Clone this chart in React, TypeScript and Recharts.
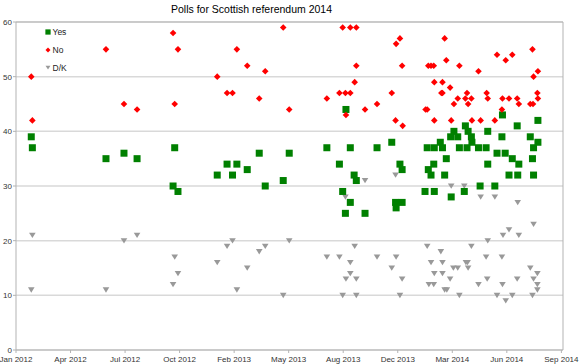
import React from "react";
import {
  ScatterChart,
  Scatter,
  XAxis,
  YAxis,
  CartesianGrid,
  ReferenceLine,
} from "recharts";

// x values are days counted from 1 Jan 2012, the axis runs to 30 Sep 2014
const tickDays = [0, 100, 200, 300, 400, 500, 600, 700, 800, 900, 1000];
const tickLabels = [
  "Jan 2012", "Apr 2012", "Jul 2012", "Oct 2012", "Feb 2013", "May 2013",
  "Aug 2013", "Dec 2013", "Mar 2014", "Jun 2014", "Sep 2014",
];
const yTicks = [0, 10, 20, 30, 40, 50, 60];

const yesDays = [
  28, 30, 165, 198, 222, 288, 291, 297, 369, 387, 397, 405, 424, 446, 457, 490, 501,
  570, 593, 599, 604, 605, 613, 613, 620, 624, 640, 662, 689, 696, 697, 704, 708, 708,
  750, 754, 756, 761, 766, 767, 767, 778, 782, 786, 789, 797, 798, 803, 810, 813, 822,
  824, 827, 829, 835, 836, 848, 851, 862, 865, 865, 878, 882, 891, 892, 897, 904, 910,
  919, 920, 922, 943, 947, 949, 949, 957, 957,
];
const yesValues = [
  39, 37, 35, 36, 35, 30, 37, 29, 32, 34, 32, 34, 33, 36, 30, 31, 36,
  37, 34, 29, 25, 44, 37, 27, 32, 31, 25, 37, 38, 27, 26, 34, 33, 27,
  29, 37, 33, 32, 34, 37, 29, 38, 37, 32, 35, 39, 28, 40, 39, 37, 29,
  41, 37, 40, 39, 38, 37, 30, 37, 40, 34, 30, 36, 39, 43, 36, 32, 35,
  41, 32, 34, 39, 35, 37, 32, 42, 38,
];

const noDays = [
  28, 30, 165, 198, 222, 288, 291, 297, 369, 387, 397, 405, 424, 446, 457, 490, 501,
  570, 593, 599, 604, 605, 613, 613, 621, 624, 624, 640, 662, 689, 696, 697, 704, 708,
  709, 751, 754, 756, 761, 766, 767, 767, 780, 782, 782, 786, 789, 796, 798, 803, 810,
  813, 824, 827, 829, 835, 836, 848, 852, 863, 865, 878, 882, 891, 892, 898, 904, 910,
  919, 922, 943, 948, 947, 949, 957, 956, 957,
];
const noValues = [
  50, 42, 55, 45, 44, 58, 45, 55, 50, 47, 47, 55, 52, 46, 51, 59, 44,
  46, 47, 59, 47, 43, 47, 59, 49, 59, 52, 44, 45, 47, 42, 56, 57, 52,
  41, 44, 44, 52, 52, 52, 49, 42, 47, 49, 47, 57, 53, 48, 42, 45, 46,
  52, 46, 47, 45, 46, 42, 51, 42, 47, 46, 42, 54, 44, 46, 53, 46, 54,
  46, 45, 45, 45, 55, 50, 51, 47, 46,
];

const dkDays = [
  28, 30, 165, 198, 222, 288, 291, 297, 369, 387, 397, 405, 424, 446, 457, 490, 501,
  570, 593, 599, 604, 605, 613, 613, 621, 624, 624, 640, 662, 689, 696, 697, 704, 708,
  754, 757, 761, 766, 767, 779, 782, 782, 786, 790, 796, 798, 802, 810, 813, 822, 825,
  828, 829, 835, 848, 852, 862, 864, 865, 878, 882, 891, 892, 893, 898, 904, 910, 919,
  920, 922, 943, 947, 949, 949, 956, 956, 956,
];
const dkValues = [
  11, 21, 11, 20, 21, 12, 17, 14, 16, 19, 20, 11, 15, 18, 19, 10, 20,
  17, 17, 10, 28, 13, 16, 14, 19, 13, 10, 31, 17, 15, 32, 17, 10, 13,
  19, 12, 16, 12, 14, 18, 16, 14, 11, 11, 13, 30, 15, 15, 10, 30, 16,
  16, 15, 19, 12, 28, 17, 13, 20, 28, 10, 17, 12, 21, 9, 22, 10, 13,
  27, 21, 15, 10, 23, 13, 14, 12, 11,
];

const toPoints = (days: number[], values: number[]) =>
  days.map((day, i) => ({ day, value: values[i] }));

const yesData = toPoints(yesDays, yesValues);
const noData = toPoints(noDays, noValues);
const dkData = toPoints(dkDays, dkValues);

const GREEN = "#008000";
const RED = "#ff0000";
const GREY = "#999999";
const FONT = "'Liberation Sans', Arial, sans-serif";

const Square = ({ cx, cy, s = 1 }: any) => (
  <rect x={cx - 3.5 * s} y={cy - 3.5 * s} width={7 * s} height={7 * s} fill={GREEN} />
);

const Diamond = ({ cx, cy, s = 1 }: any) => {
  const r = 3.3 * s;
  return (
    <polygon
      points={`${cx},${cy - r} ${cx + r},${cy} ${cx},${cy + r} ${cx - r},${cy}`}
      fill={RED}
    />
  );
};

const TriangleDown = ({ cx, cy, s = 1 }: any) => (
  <polygon
    points={`${cx - 3.3 * s},${cy - 2.5 * s} ${cx + 3.3 * s},${cy - 2.5 * s} ${cx},${cy + 2.8 * s}`}
    fill={GREY}
  />
);

const legendItems = [
  { label: "Yes", Shape: Square, y: 32 },
  { label: "No", Shape: Diamond, y: 50 },
  { label: "D/K", Shape: TriangleDown, y: 67.5 },
];

// legend drawn as an overlay so it takes no room from the plot
const LegendBox = () => (
  <svg width={100} height={80} style={{ position: "absolute", left: 0, top: 0 }}>
    {legendItems.map(({ label, Shape, y }) => (
      <g key={label}>
        <Shape cx={48} cy={y} s={0.75} />
        <text x={52.5} y={y + 3} fontSize={8.5} fill="#222" fontFamily={FONT}>
          {label}
        </text>
      </g>
    ))}
  </svg>
);

export default function App() {
  return (
    <div style={{ position: "absolute", left: 0, top: 0, width: 582, height: 364, background: "#fff" }}>
      <ScatterChart width={582} height={364} margin={{ top: 22, right: 19, bottom: 0, left: 0 }}>
        <CartesianGrid horizontal vertical={false} stroke="#d9d9d9" strokeWidth={1.5} />
        <XAxis
          type="number"
          dataKey="day"
          domain={[0, 1003]}
          ticks={tickDays}
          interval={0}
          height={14}
          tickSize={3}
          tickMargin={3}
          stroke="#b3b3b3"
          tick={{ fontSize: 8, fill: "#333", fontFamily: FONT }}
          tickFormatter={(d: number) => tickLabels[tickDays.indexOf(d)]}
        />
        <YAxis
          type="number"
          dataKey="value"
          domain={[0, 60]}
          ticks={yTicks}
          interval={0}
          width={16}
          tickSize={3}
          tickMargin={1}
          stroke="#b3b3b3"
          tick={{ fontSize: 8, fill: "#333", fontFamily: FONT }}
        />
        <ReferenceLine x={1003} stroke="#b3b3b3" />
        <ReferenceLine y={60} stroke="#b3b3b3" />
        <Scatter name="D/K" data={dkData} shape={<TriangleDown />} isAnimationActive={false} />
        <Scatter name="Yes" data={yesData} shape={<Square />} isAnimationActive={false} />
        <Scatter name="No" data={noData} shape={<Diamond />} isAnimationActive={false} />
      </ScatterChart>
      <div
        style={{
          position: "absolute",
          left: 0,
          top: 2.5,
          width: 503,
          textAlign: "center",
          fontFamily: FONT,
          fontSize: 10.5,
          lineHeight: "12px",
          color: "#000",
        }}
      >
        Polls for Scottish referendum 2014
      </div>
      <LegendBox />
    </div>
  );
}
